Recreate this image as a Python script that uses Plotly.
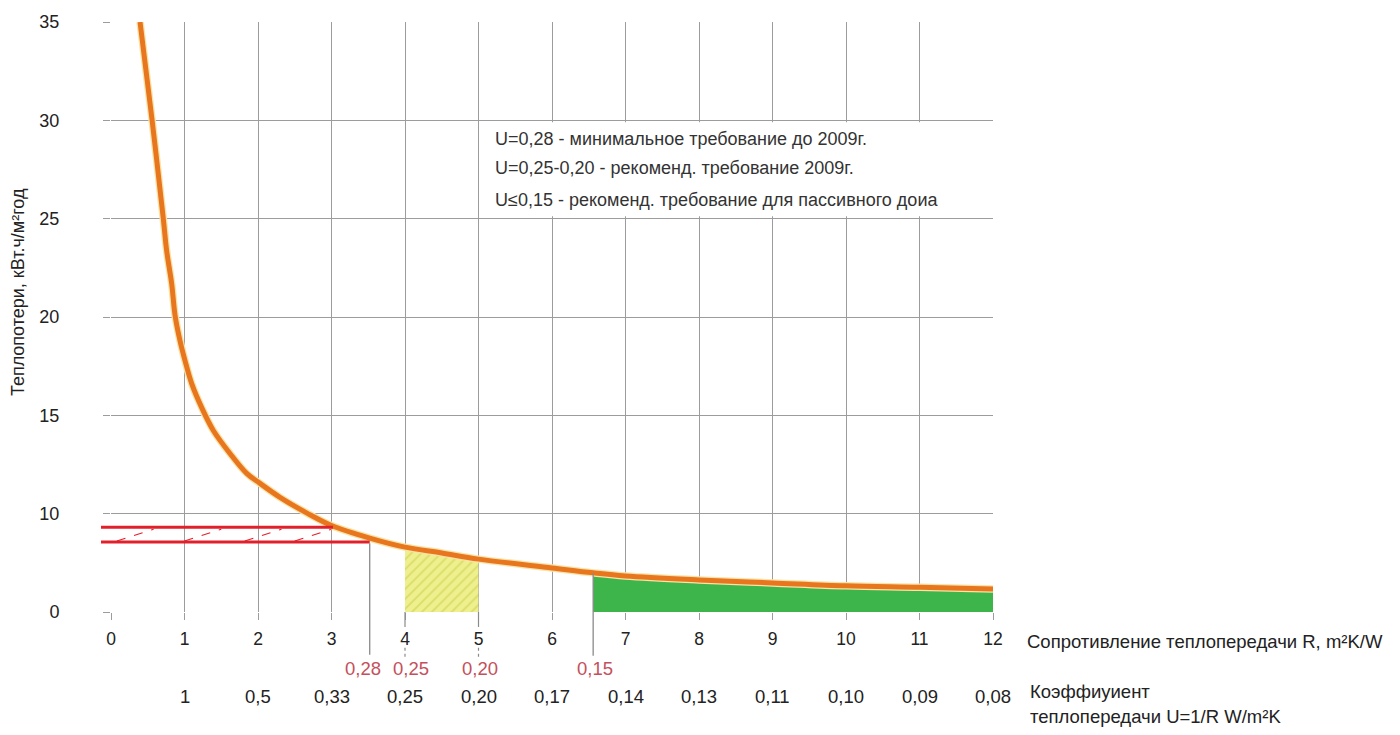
import plotly.graph_objects as go

# ---------------- data ----------------
# thermal resistance R (m²K/W) and heat-loss value in the chart's own y scale
curve_r = [0.395, 0.558, 0.711, 0.758, 0.826, 0.871, 0.939, 1.007, 1.098, 1.234, 1.392, 1.619, 1.846, 2.027, 2.299, 2.667, 3.0, 3.52, 4.0, 4.5, 5.0, 6.0, 6.56, 7.0, 8.0, 9.0, 10.0, 11.0, 12.0]
curve_q = [35.0, 30.04, 25.02, 23.35, 21.68, 20.1, 18.79, 17.78, 16.61, 15.39, 14.23, 13.06, 12.05, 11.54, 10.83, 10.03, 9.4, 8.76, 8.30, 8.0, 7.69, 7.24, 6.99, 6.83, 6.63, 6.48, 6.33, 6.26, 6.17]

x_ticks = list(range(0, 13))
y_tickvals = [5, 10, 15, 20, 25, 30, 35]
y_ticktext = ["0", "10", "15", "20", "25", "30", "35"]

u_labels = ["1", "0,5", "0,33", "0,25", "0,20", "0,17", "0,14", "0,13", "0,11", "0,10", "0,09", "0,08"]
u_label_r = [1, 2, 3, 4, 5, 6, 7, 8, 9, 10, 11, 12]

req_labels = ["0,28", "0,25", "0,20", "0,15"]
req_label_r = [3.43, 4.08, 5.02, 6.59]

r_u028 = 3.52      # R position of U=0,28 line
r_u015 = 6.56      # R position of U=0,15 (green zone start)
yellow_range = (4.0, 5.0)
red_band = (8.56, 9.31)     # lower / upper red line level
red_top_end = 3.02
hatch_starts = [0.08, 1.0, 1.82, 2.5]

legend_lines = [
    "U=0,28 - минимальное требование до 2009г.",
    "U=0,25-0,20 - рекоменд. требование 2009г.",
    "U≤0,15 - рекоменд. требование для пассивного доиа",
]
legend_y = [29.07, 27.6, 25.93]

# ---------------- figure ----------------
ORANGE = "#e8761e"
GLOW = "#fbe2a6"
RED = "#e2202b"
GREEN = "#3db54a"
GRID = "#9c9c9c"
TXT = "#222222"
FONT = "Liberation Sans, Arial, sans-serif"

L, R_, T, B = 111, 407, 20, 123
W, H = 1400, 735
PH = H - T - B
PW = W - L - R_


def yp(py):
    return (H - B - py) / PH


def xp(px):
    return (px - L) / PW


fig = go.Figure()

# green zone under the curve
g_r = [r for r in curve_r if r >= r_u015]
g_q = [q for r, q in zip(curve_r, curve_q) if r >= r_u015]
fig.add_trace(go.Scatter(
    x=g_r + [g_r[-1], g_r[0]], y=[q + 0.05 for q in g_q] + [5, 5],
    fill="toself", fillcolor=GREEN, mode="lines", line=dict(width=0, color=GREEN),
    hoverinfo="skip", showlegend=False))

# yellow hatched zone
y_r = [r for r in curve_r if yellow_range[0] <= r <= yellow_range[1]]
y_q = [q for r, q in zip(curve_r, curve_q) if yellow_range[0] <= r <= yellow_range[1]]
fig.add_trace(go.Scatter(
    x=y_r + [y_r[-1], y_r[0]], y=y_q + [5, 5],
    fill="toself", mode="lines", line=dict(width=0, color="#ecec86"),
    fillcolor="#ecec86",
    fillpattern=dict(shape="/", bgcolor="#eef08e", fgcolor="#c8c844", size=7, solidity=0.25),
    hoverinfo="skip", showlegend=False))

# red hatch strokes between red lines
for s in hatch_starts:
    fig.add_trace(go.Scatter(
        x=[s, s + 0.5], y=[red_band[0] + 0.05, red_band[1] - 0.1], mode="lines",
        line=dict(color=RED, width=1.1, dash="dash"), hoverinfo="skip", showlegend=False))

# curve with glow
fig.add_trace(go.Scatter(x=curve_r, y=curve_q, mode="lines", line=dict(color=GLOW, width=7.5, shape="spline", smoothing=1),
                         hoverinfo="skip", showlegend=False))
fig.add_trace(go.Scatter(x=curve_r, y=curve_q, mode="lines", line=dict(color=ORANGE, width=5, shape="spline", smoothing=1),
                         showlegend=False))

shapes = []
# legend white box
shapes.append(dict(type="rect", xref="x", yref="y", x0=5.03, x1=11.97, y0=25.12, y1=29.9,
                   fillcolor="white", line=dict(width=0), layer="between"))
# red lines (extend left of the axis)
x_left = xp(101)
shapes.append(dict(type="line", xref="paper", yref="y", x0=x_left, x1=red_top_end / 12,
                   y0=red_band[1], y1=red_band[1], line=dict(color=RED, width=3.2), layer="above"))
shapes.append(dict(type="line", xref="paper", yref="y", x0=x_left, x1=r_u028 / 12,
                   y0=red_band[0], y1=red_band[0], line=dict(color=RED, width=3.2), layer="above"))
# vertical marker lines down into the label area
shapes.append(dict(type="line", xref="paper", yref="paper", x0=r_u028 / 12, x1=r_u028 / 12,
                   y0=yp(655), y1=yp(543), line=dict(color="#8a8a8a", width=1.3)))
shapes.append(dict(type="line", xref="paper", yref="paper", x0=r_u015 / 12, x1=r_u015 / 12,
                   y0=yp(656), y1=yp(573), line=dict(color="#8a8a8a", width=1.3)))
for rr in yellow_range:
    shapes.append(dict(type="line", xref="paper", yref="paper", x0=rr / 12, x1=rr / 12,
                       y0=yp(627), y1=yp(612), line=dict(color="#8a8a8a", width=1.2)))
    shapes.append(dict(type="line", xref="paper", yref="paper", x0=rr / 12, x1=rr / 12,
                       y0=yp(657), y1=yp(647), line=dict(color="#8a8a8a", width=1.2, dash="dot")))

annotations = []
for txt, yy in zip(legend_lines, legend_y):
    annotations.append(dict(xref="x", yref="y", x=5.2, y=yy, text=txt, showarrow=False,
                            xanchor="left", yanchor="middle", font=dict(size=18, color="#333333", family=FONT)))
for txt, rr in zip(req_labels, req_label_r):
    annotations.append(dict(xref="paper", yref="paper", x=rr / 12, y=yp(669), text=txt, showarrow=False,
                            xanchor="center", yanchor="middle", font=dict(size=18.5, color="#c4505c", family=FONT)))
for txt, rr in zip(u_labels, u_label_r):
    annotations.append(dict(xref="paper", yref="paper", x=rr / 12, y=yp(697), text=txt, showarrow=False,
                            xanchor="center", yanchor="middle", font=dict(size=18.5, color=TXT, family=FONT)))
annotations.append(dict(xref="paper", yref="paper", x=xp(1025), y=yp(642), text="Сопротивление теплопередачи R, m²K/W",
                        showarrow=False, xanchor="left", yanchor="middle", font=dict(size=18.5, color=TXT, family=FONT)))
annotations.append(dict(xref="paper", yref="paper", x=xp(1028), y=yp(692), text="Коэффиуиент",
                        showarrow=False, xanchor="left", yanchor="middle", font=dict(size=18.5, color=TXT, family=FONT)))
annotations.append(dict(xref="paper", yref="paper", x=xp(1028), y=yp(717), text="теплопередачи U=1/R W/m²K",
                        showarrow=False, xanchor="left", yanchor="middle", font=dict(size=18.5, color=TXT, family=FONT)))
annotations.append(dict(xref="paper", yref="paper", x=xp(18), y=yp(291),
                        text="Теплопотери, кВт.ч/м²год", textangle=-90, showarrow=False,
                        xanchor="center", yanchor="middle", font=dict(size=18, color=TXT, family=FONT)))

fig.update_layout(
    width=W, height=H, margin=dict(l=L, r=R_, t=T, b=B),
    paper_bgcolor="white", plot_bgcolor="white",
    shapes=shapes, annotations=annotations, showlegend=False,
    font=dict(family=FONT, color=TXT),
    xaxis=dict(range=[0, 12], tickvals=x_ticks, showgrid=True, gridcolor=GRID, gridwidth=1.3,
               zeroline=False, showline=False, ticks="outside", ticklen=7, tickcolor=GRID, tickwidth=1.3,
               tickfont=dict(size=17.5, color=TXT, family=FONT), ticklabelstandoff=4),
    yaxis=dict(range=[5, 35], tickvals=y_tickvals, ticktext=y_ticktext, showgrid=True, gridcolor=GRID,
               gridwidth=1.3, zeroline=False, showline=False, ticks="outside", ticklen=7, tickcolor=GRID,
               tickwidth=1.3, tickfont=dict(size=18, color=TXT, family=FONT), ticklabelstandoff=40),
)

fig.write_html("out.html")
